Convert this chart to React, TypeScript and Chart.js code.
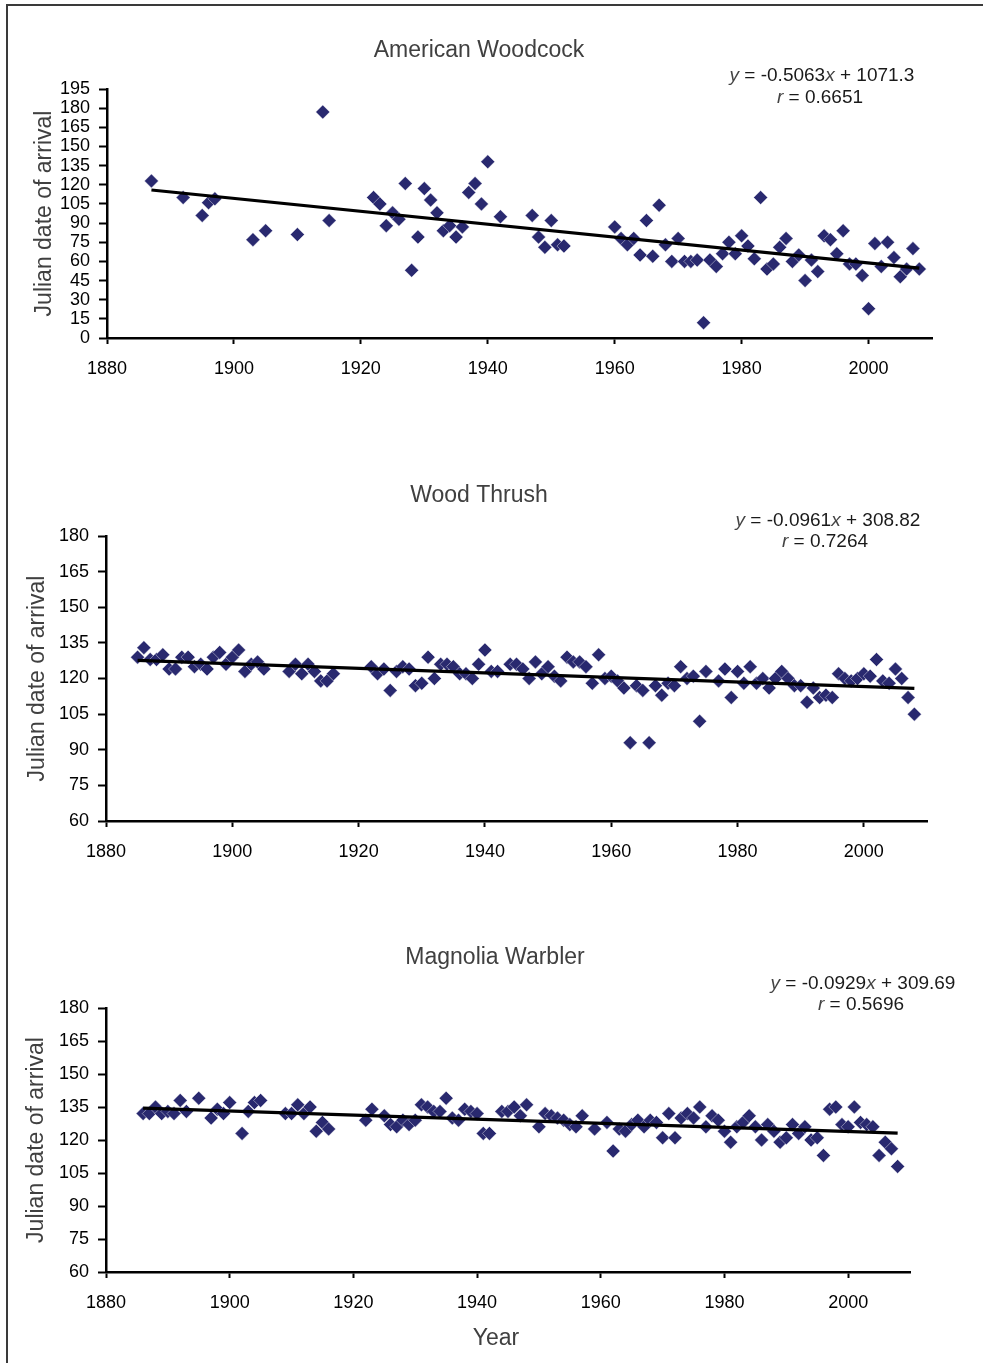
import React, { useEffect, useRef } from 'react';
import { Chart, registerables } from 'chart.js';

Chart.register(...registerables);

const FONT = '"Liberation Sans", Arial, Helvetica, sans-serif';

// ---------- Data ----------
const yearTicks = [1880, 1900, 1920, 1940, 1960, 1980, 2000];

const woodcockYears = [
  1887, 1892, 1895, 1896, 1897, 1903, 1905, 1910, 1914, 1915,
  1922, 1923, 1924, 1925, 1926, 1927, 1928, 1929, 1930, 1931,
  1932, 1933, 1934, 1935, 1936, 1937, 1938, 1939, 1940, 1942,
  1947, 1948, 1949, 1950, 1951, 1952, 1960, 1961, 1962, 1963,
  1964, 1965, 1966, 1967, 1968, 1969, 1970, 1971, 1972, 1973,
  1974, 1975, 1976, 1977, 1978, 1979, 1980, 1981, 1982, 1983,
  1984, 1985, 1986, 1987, 1988, 1989, 1990, 1991, 1992, 1993,
  1994, 1995, 1996, 1997, 1998, 1999, 2000, 2001, 2002, 2003,
  2004, 2005, 2006, 2007, 2008,
];
const woodcockDays = [
  123, 110, 96, 106, 109, 77, 84, 81, 177, 92,
  110, 105, 88, 98, 93, 121, 53, 79, 117, 108,
  98, 84, 88, 79, 87, 114, 121, 105, 138, 95,
  96, 79, 71, 92, 73, 72, 87, 78, 73, 78,
  65, 92, 64, 104, 73, 60, 78, 60, 60, 61,
  12, 61, 56, 66, 75, 66, 80, 72, 62, 110,
  54, 58, 71, 78, 60, 65, 45, 61, 52, 80,
  77, 66, 84, 58, 58, 49, 23, 74, 56, 75,
  63, 48, 54, 70, 54,
];
const woodcockFit = { slope: -0.5063, intercept: 1071.3, r: 0.6651 };
const woodcockYTicks = { min: 0, max: 195, step: 15 };

const thrushYears = [
  1885, 1886, 1887, 1888, 1889, 1890, 1891, 1892, 1893, 1894,
  1895, 1896, 1897, 1898, 1899, 1900, 1901, 1902, 1903, 1904,
  1905, 1909, 1910, 1911, 1912, 1913, 1914, 1915, 1916, 1922,
  1923, 1924, 1925, 1926, 1927, 1928, 1929, 1930, 1931, 1932,
  1933, 1934, 1935, 1936, 1937, 1938, 1939, 1940, 1941, 1942,
  1944, 1945, 1946, 1947, 1948, 1949, 1950, 1951, 1952, 1953,
  1954, 1955, 1956, 1957, 1958, 1959, 1960, 1961, 1962, 1963,
  1964, 1965, 1966, 1967, 1968, 1969, 1970, 1971, 1972, 1973,
  1974, 1975, 1977, 1978, 1979, 1980, 1981, 1982, 1983, 1984,
  1985, 1986, 1987, 1988, 1989, 1990, 1991, 1992, 1993, 1994,
  1995, 1996, 1997, 1998, 1999, 2000, 2001, 2002, 2003, 2004,
  2005, 2006, 2007, 2008,
];
const thrushDays = [
  129, 133, 128, 128, 130, 124, 124, 129, 129, 125,
  126, 124, 129, 131, 126, 129, 132, 123, 126, 127,
  124, 123, 126, 122, 126, 123, 119, 119, 122, 125,
  122, 124, 115, 123, 125, 124, 117, 118, 129, 120,
  126, 126, 125, 122, 122, 120, 126, 132, 123, 123,
  126, 126, 124, 120, 127, 122, 125, 121, 119, 129,
  127, 127, 125, 118, 130, 120, 121, 119, 116, 93,
  117, 115, 93, 117, 113, 118, 117, 125, 120, 121,
  102, 123, 119, 124, 112, 123, 118, 125, 118, 120,
  116, 120, 123, 120, 117, 117, 110, 116, 112, 113,
  112, 122, 120, 119, 120, 122, 121, 128, 119, 118,
  124, 120, 112, 105,
];
const thrushFit = { slope: -0.0961, intercept: 308.82, r: 0.7264 };
const thrushYTicks = { min: 60, max: 180, step: 15 };

const warblerYears = [
  1886, 1887, 1888, 1889, 1890, 1891, 1892, 1893, 1895, 1897,
  1898, 1899, 1900, 1902, 1903, 1904, 1905, 1909, 1910, 1911,
  1912, 1913, 1914, 1915, 1916, 1922, 1923, 1925, 1926, 1927,
  1928, 1929, 1930, 1931, 1932, 1933, 1934, 1935, 1936, 1937,
  1938, 1939, 1940, 1941, 1942, 1944, 1945, 1946, 1947, 1948,
  1950, 1951, 1952, 1953, 1954, 1955, 1956, 1957, 1959, 1961,
  1962, 1963, 1964, 1965, 1966, 1967, 1968, 1969, 1970, 1971,
  1972, 1973, 1974, 1975, 1976, 1977, 1978, 1979, 1980, 1981,
  1982, 1983, 1984, 1985, 1986, 1987, 1988, 1989, 1990, 1991,
  1992, 1993, 1994, 1995, 1996, 1997, 1998, 1999, 2000, 2001,
  2002, 2003, 2004, 2005, 2006, 2007, 2008,
];
const warblerDays = [
  132, 132, 135, 132, 133, 132, 138, 133, 139, 130,
  134, 132, 137, 123, 133, 137, 138, 132, 132, 136,
  132, 135, 124, 128, 125, 129, 134, 131, 127, 126,
  129, 127, 129, 136, 135, 133, 133, 139, 130, 129,
  134, 133, 132, 123, 123, 133, 133, 135, 131, 136,
  126, 132, 131, 130, 129, 127, 126, 131, 125, 128,
  115, 125, 124, 127, 129, 126, 129, 128, 121, 132,
  121, 130, 132, 130, 135, 126, 131, 129, 124, 119,
  126, 128, 131, 126, 120, 127, 124, 119, 121, 127,
  123, 126, 120, 121, 113, 134, 135, 127, 126, 135,
  128, 127, 126, 113, 119, 116, 108,
];
const warblerFit = { slope: -0.0929, intercept: 309.69, r: 0.5696 };
const warblerYTicks = { min: 60, max: 180, step: 15 };

// ---------- Helpers ----------
const MARKER = '#29296f';

const textPlugin = {
  id: 'panelText',
  afterDraw(chart: any, _args: any, opts: any) {
    const ctx = chart.ctx;
    ctx.save();
    ctx.textBaseline = 'middle';
    if (opts.title) {
      ctx.font = `23px ${FONT}`;
      ctx.fillStyle = '#404040';
      ctx.textAlign = 'center';
      ctx.fillText(opts.title.text, opts.title.x, opts.title.y);
    }
    if (opts.xTitle) {
      ctx.font = `23px ${FONT}`;
      ctx.fillStyle = '#404040';
      ctx.textAlign = 'center';
      ctx.fillText(opts.xTitle.text, opts.xTitle.x, opts.xTitle.y);
    }
    if (opts.eq) {
      const drawLine = (segs: any[], cx: number, cy: number) => {
        const fontN = `19px ${FONT}`;
        const fontI = `italic 19px ${FONT}`;
        let total = 0;
        segs.forEach((s) => {
          ctx.font = s.i ? fontI : fontN;
          total += ctx.measureText(s.t).width;
        });
        let x = cx - total / 2;
        ctx.textAlign = 'left';
        segs.forEach((s) => {
          ctx.font = s.i ? fontI : fontN;
          ctx.fillStyle = s.i ? '#444444' : '#1a1a1a';
          ctx.fillText(s.t, x, cy);
          x += ctx.measureText(s.t).width;
        });
      };
      const f = opts.eq.fit;
      const sign = f.intercept >= 0 ? '+' : '-';
      drawLine(
        [
          { t: 'y', i: true },
          { t: ` = ${f.slope}`, i: false },
          { t: 'x', i: true },
          { t: ` ${sign} ${Math.abs(f.intercept)}`, i: false },
        ],
        opts.eq.x1,
        opts.eq.y1
      );
      drawLine(
        [
          { t: 'r', i: true },
          { t: ` = ${f.r}`, i: false },
        ],
        opts.eq.x2,
        opts.eq.y2
      );
    }
    ctx.restore();
  },
};

function buildConfig(p: any) {
  const points = p.years.map((yr: number, i: number) => ({ x: yr, y: p.days[i] }));
  const x0 = p.years[0];
  const x1 = p.years[p.years.length - 1];
  const trend = [
    { x: x0, y: p.fit.slope * x0 + p.fit.intercept },
    { x: x1, y: p.fit.slope * x1 + p.fit.intercept },
  ];
  const tickFont = { family: FONT, size: 18 };
  return {
    type: 'scatter',
    data: {
      datasets: [
        {
          type: 'line',
          data: trend,
          borderColor: '#000000',
          borderWidth: 3.2,
          pointRadius: 0,
          fill: false,
        },
        {
          data: points,
          pointStyle: 'rectRot',
          pointRadius: 7,
          backgroundColor: MARKER,
          borderColor: 'rgba(255,255,255,0.7)',
          borderWidth: 0.6,
        },
      ],
    },
    options: {
      animation: false,
      responsive: false,
      maintainAspectRatio: false,
      layout: { padding: { left: 0, right: p.padRight, top: p.padTop, bottom: 0 } },
      plugins: {
        legend: { display: false },
        tooltip: { enabled: false },
        title: { display: false },
        panelText: p.text,
      },
      scales: {
        x: {
          type: 'linear',
          min: 1880,
          max: 2010,
          afterFit: (s: any) => {
            s.height = p.xHeight;
          },
          afterBuildTicks: (s: any) => {
            s.ticks = yearTicks.map((v) => ({ value: v }));
          },
          ticks: {
            callback: (v: any) => String(v),
            color: '#000000',
            font: tickFont,
            padding: 14,
            maxRotation: 0,
            autoSkip: false,
          },
          grid: {
            display: true,
            drawOnChartArea: false,
            drawTicks: true,
            tickLength: 6,
            tickWidth: 2,
            tickColor: '#000000',
          },
          border: { display: true, color: '#000000', width: 2.5 },
        },
        y: {
          type: 'linear',
          min: p.yTicks.min,
          max: p.yTicks.max,
          afterFit: (s: any) => {
            s.width = p.yWidth;
          },
          ticks: {
            stepSize: p.yTicks.step,
            callback: (v: any) => String(v),
            color: '#000000',
            font: tickFont,
            padding: 9,
            autoSkip: false,
          },
          grid: {
            display: true,
            drawOnChartArea: false,
            drawTicks: true,
            tickLength: 8,
            tickWidth: 2,
            tickColor: '#000000',
          },
          border: { display: true, color: '#000000', width: 2.5 },
          title: {
            display: true,
            text: 'Julian date of arrival',
            color: '#404040',
            font: { family: FONT, size: 23 },
            padding: { top: p.yTitlePad, bottom: 0 },
          },
        },
      },
    },
    plugins: [textPlugin],
  };
}

function Panel(props: any) {
  const ref = useRef<HTMLCanvasElement | null>(null);
  useEffect(() => {
    if (!ref.current) return;
    const chart = new Chart(ref.current, buildConfig(props.cfg) as any);
    return () => chart.destroy();
  }, []);
  return (
    <canvas
      ref={ref}
      width={983}
      height={props.height}
      style={{ position: 'absolute', left: 0, top: props.top, width: 983, height: props.height, display: 'block' }}
    />
  );
}

const panels = [
  {
    top: 0,
    height: 400,
    cfg: {
      years: woodcockYears,
      days: woodcockDays,
      fit: woodcockFit,
      yTicks: woodcockYTicks,
      padTop: 89,
      padRight: 51,
      xHeight: 62,
      yWidth: 107,
      yTitlePad: 31,
      text: {
        title: { text: 'American Woodcock', x: 479, y: 51 },
        eq: { fit: woodcockFit, x1: 822, y1: 76, x2: 820, y2: 98 },
      },
    },
  },
  {
    top: 420,
    height: 460,
    cfg: {
      years: thrushYears,
      days: thrushDays,
      fit: thrushFit,
      yTicks: thrushYTicks,
      padTop: 116,
      padRight: 56,
      xHeight: 59,
      yWidth: 106,
      yTitlePad: 24,
      text: {
        title: { text: 'Wood Thrush', x: 479, y: 76 },
        eq: { fit: thrushFit, x1: 828, y1: 101, x2: 825, y2: 122 },
      },
    },
  },
  {
    top: 880,
    height: 483,
    cfg: {
      years: warblerYears,
      days: warblerDays,
      fit: warblerFit,
      yTicks: warblerYTicks,
      padTop: 128,
      padRight: 73,
      xHeight: 91,
      yWidth: 106,
      yTitlePad: 23,
      text: {
        title: { text: 'Magnolia Warbler', x: 495, y: 78 },
        eq: { fit: warblerFit, x1: 863, y1: 104, x2: 861, y2: 125 },
        xTitle: { text: 'Year', x: 496, y: 459 },
      },
    },
  },
];

export default function App() {
  return (
    <div
      style={{
        position: 'absolute',
        left: 0,
        top: 0,
        width: 983,
        height: 1363,
        overflow: 'hidden',
        background: '#ffffff',
      }}
    >
      {panels.map((p, i) => (
        <Panel key={i} top={p.top} height={p.height} cfg={p.cfg} />
      ))}
      <div style={{ position: 'absolute', left: 6, top: 4, width: 977, height: 2, background: '#3a3a3a' }} />
      <div style={{ position: 'absolute', left: 6, top: 4, width: 2, height: 1359, background: '#3a3a3a' }} />
    </div>
  );
}
